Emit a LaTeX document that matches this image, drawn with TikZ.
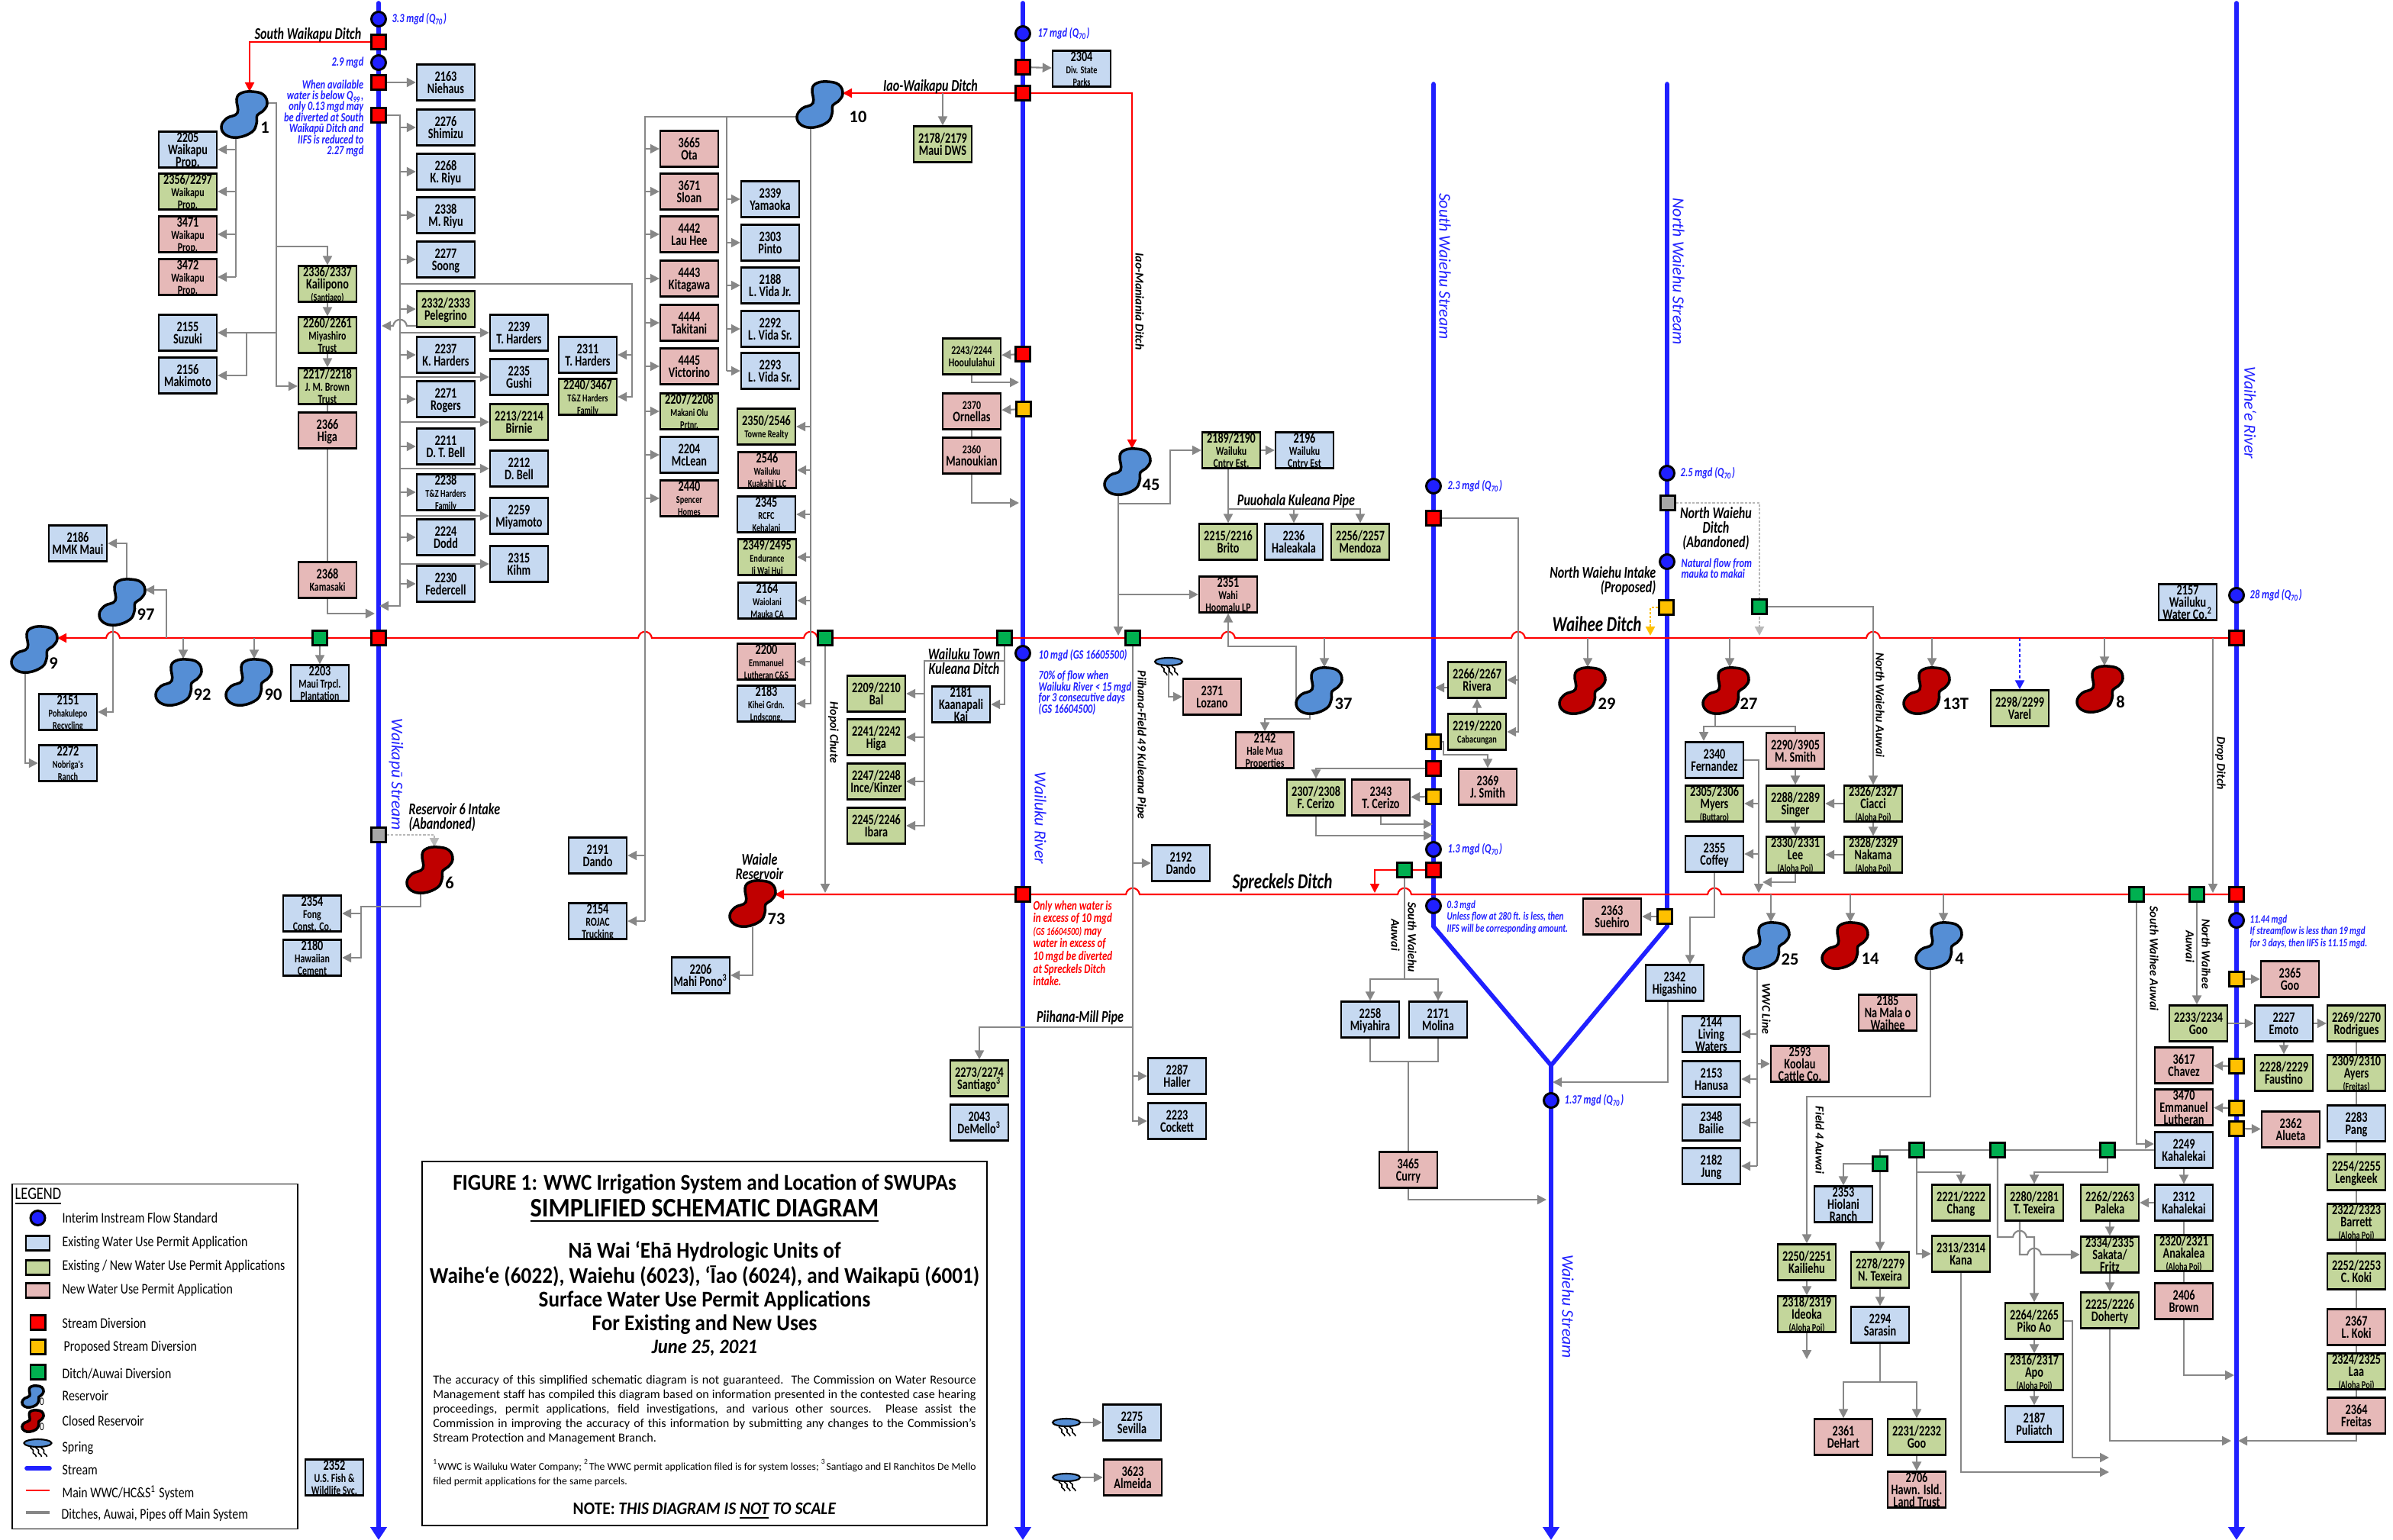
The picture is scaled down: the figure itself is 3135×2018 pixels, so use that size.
\documentclass[tikz,border=0pt]{standalone}
\usepackage{fontspec}
\setmainfont{Carlito}
\newfontfamily\cnd[FakeStretch=.75]{Carlito}
\newfontfamily\lgf[FakeStretch=.82]{Carlito}
\newfontfamily\ttl[FakeStretch=.92]{Carlito}
\usetikzlibrary{arrows.meta,shapes.geometric}
\pgfdeclarelayer{back}
\pgfsetlayers{back,main}
\definecolor{existc}{HTML}{C6D9F1}
\definecolor{bothc}{HTML}{C3D69B}
\definecolor{newc}{HTML}{E6B9B8}
\definecolor{flowb}{HTML}{2020FF}
\definecolor{resb}{HTML}{558ED5}
\definecolor{resr}{HTML}{C00000}
\definecolor{pipec}{HTML}{878787}
\definecolor{dgreen}{HTML}{00B050}
\definecolor{dyell}{HTML}{FFC000}
\definecolor{dgray}{HTML}{A6A6A6}
\newcommand{\sz}{\fontsize{4.5}{4.6}\selectfont}
\newcommand{\xs}{\fontsize{3.9}{4.6}\selectfont}
\newcommand{\Qs}{(Q\textsubscript{70})}
\newcommand{\fixls}{\lineskiplimit=-10pt\relax}
%hops over a crossing pipe
\newcommand{\hopl}[2]{-- (#1+9,#2) .. controls (#1+7,#2-11) and (#1-7,#2-11) .. (#1-9,#2)}
\newcommand{\hopr}[2]{-- (#1-9,#2) .. controls (#1-7,#2-11) and (#1+7,#2-11) .. (#1+9,#2)}
%symbols
\newcommand{\blob}[4]{\draw[blobl,fill=#3,shift={(#1,#2)},scale=#4] plot[smooth cycle,tension=.7] coordinates {(10,-30) (25,-26) (30,-14) (24,-4) (17,1) (16,12) (10,23) (-8,30) (-24,27) (-30,16) (-23,5) (-9,-2) (-10,-20) (-4,-28)};}
\newcommand{\reservoir}[4]{\node[resv] (#1) at (#2,#3) {}; \blob{#2}{#3}{#4}{1}}
\newcommand{\springw}[3]{\draw[line width=.45pt,shift={(#2,#3)}] (#1,4) .. controls (#1-3,7) and (#1+5,8) .. (#1+3,11) .. controls (#1+1,14) and (#1+7,14) .. (#1+7,18);}
\newcommand{\spring}[3]{\node[sprg] (#1) at (#2,#3) {}; \springw{-9}{#2}{#3} \springw{-2}{#2}{#3} \springw{5}{#2}{#3}}
\tikzset{
   permit/.style={draw=black,line width=.65pt,minimum width=.76cm,minimum height=.47cm,inner sep=0pt,text depth=0pt,align=center,font=\fixls\cnd\bfseries\fontsize{5.4}{4.6}\selectfont},
   exist/.style={permit,fill=existc},
   both/.style={permit,fill=bothc},
   newp/.style={permit,fill=newc},
   divsq/.style={draw=black,line width=.85pt,minimum size=.19cm,inner sep=0pt},
   divr/.style={divsq,fill=red},
   divy/.style={divsq,fill=dyell},
   divg/.style={divsq,fill=dgreen},
   divx/.style={divsq,fill=dgray},
   iifs/.style={circle,draw=black,line width=.85pt,fill=flowb,minimum size=.19cm,inner sep=0pt},
   resv/.style={inner sep=0pt,minimum width=.6cm,minimum height=.6cm},
   blobl/.style={draw=black,line width=1pt},
   sprg/.style={ellipse,draw=black,line width=.6pt,fill=resb,minimum width=.36cm,minimum height=.1cm,inner sep=0pt},
   resn/.style={inner sep=0pt,font=\bfseries\fontsize{6.4}{7}\selectfont},
   stream/.style={draw=flowb,line width=1.6pt,line cap=round},
   streama/.style={stream,-{Triangle[length=1.7mm,width=2.1mm]}},
   rd/.style={draw=red,line width=.6pt},
   rdar/.style={rd,-{Triangle[length=1.2mm,width=1.2mm]}},
   ln/.style={draw=pipec,line width=.6pt},
   ar/.style={ln,-{Triangle[length=1.2mm,width=1.2mm]}},
   dot/.style={draw=dgray!80,line width=.7pt,dash pattern=on .9pt off .6pt,-{Triangle[length=1.2mm,width=1.2mm]}},
   yel/.style={draw=dyell,line width=.7pt,dash pattern=on .9pt off .6pt,-{Triangle[length=1.2mm,width=1.2mm]}},
   bld/.style={draw=flowb,line width=.7pt,dash pattern=on 1.2pt off .8pt,-{Triangle[length=1.2mm,width=1.2mm]}},
   flow/.style={text=flowb,inner sep=0pt,anchor=west,align=left,font=\fixls\cnd\bfseries\itshape\fontsize{4.7}{4.1}\selectfont},
   ditch/.style={inner sep=0pt,align=center,font=\fixls\cnd\bfseries\itshape\fontsize{6.1}{5.4}\selectfont},
   ditchr/.style={inner sep=0pt,rotate=-90,font=\bfseries\itshape\fontsize{4.5}{5}\selectfont},
   bigd/.style={inner sep=0pt,font=\cnd\bfseries\itshape\fontsize{8}{8}\selectfont},
   strm/.style={inner sep=0pt,rotate=-90,text=flowb,font=\itshape\fontsize{6.2}{7}\selectfont},
   lgt/.style={inner sep=0pt,anchor=west,font=\lgf\fontsize{5.5}{6}\selectfont},
   lgbox/.style={draw=black,line width=.6pt,minimum width=.31cm,minimum height=.19cm,inner sep=0pt},
   ttla/.style={inner sep=0pt,font=\ttl\bfseries\fontsize{8.4}{9}\selectfont},
}
\begin{document}
\begin{tikzpicture}[x=.01cm,y=-.01cm]
   \useasboundingbox (0,0) rectangle (3135,2018);
   %diversions and gages
   \node[iifs] (wkpA) at (496,25) {};
   \node[divr] (wkpB) at (496,55) {};
   \node[iifs] (wkpC) at (496,82) {};
   \node[divr] (wkpD) at (496,108) {};
   \node[divr] (wkpE) at (496,151) {};
   \node[divr] (wkpF) at (496,836) {};
   \node[divx] (wkpG) at (496,1094) {};
   \node[iifs] (wluA) at (1340,44) {};
   \node[divr] (wluB) at (1340,88) {};
   \node[divr] (wluC) at (1340,122) {};
   \node[divr] (wluD) at (1340,464) {};
   \node[divy] (wluE) at (1341,536) {};
   \node[iifs] (wluF) at (1340,856) {};
   \node[divr] (wluG) at (1340,1172) {};
   \node[iifs] (swA) at (1878,637) {};
   \node[divr] (swB) at (1878,679) {};
   \node[divy] (swC) at (1878,972) {};
   \node[divr] (swD) at (1878,1007) {};
   \node[divy] (swE) at (1878,1044) {};
   \node[iifs] (swF) at (1878,1113) {};
   \node[divr] (swG) at (1878,1140) {};
   \node[iifs] (swH) at (1878,1187) {};
   \node[iifs] (nwA) at (2184,620) {};
   \node[divx] (nwB) at (2185,659) {};
   \node[iifs] (nwC) at (2184,736) {};
   \node[divy] (nwD) at (2183,796) {};
   \node[divy] (nwE) at (2181,1201) {};
   \node[iifs] (weA) at (2032,1442) {};
   \node[iifs] (whA) at (2930,780) {};
   \node[divr] (whB) at (2930,836) {};
   \node[divr] (whC) at (2930,1172) {};
   \node[iifs] (whD) at (2930,1206) {};
   \node[divy] (whE) at (2930,1283) {};
   \node[divy] (whF) at (2930,1397) {};
   \node[divy] (whG) at (2930,1452) {};
   \node[divy] (whH) at (2930,1479) {};
   \node[divg] (gA) at (419,836) {};
   \node[divg] (gB) at (1081,836) {};
   \node[divg] (gC) at (1316,836) {};
   \node[divg] (gD) at (1484,836) {};
   \node[divg] (gE) at (2305,795) {};
   \node[divg] (gF) at (1840,1140) {};
   \node[divg] (gG) at (2799,1172) {};
   \node[divg] (gH) at (2878,1172) {};
   \node[divg] (gI) at (2511,1507) {};
   \node[divg] (gJ) at (2617,1507) {};
   \node[divg] (gK) at (2761,1507) {};
   \node[divg] (gL) at (2463,1525) {};
   %reservoirs
   \reservoir{r1}{320}{150}{resb}
   \reservoir{r9}{45}{851}{resb}
   \reservoir{r97}{160}{789}{resb}
   \reservoir{r92}{234}{894}{resb}
   \reservoir{r90}{326}{894}{resb}
   \reservoir{r6}{563}{1140}{resr}
   \reservoir{r10}{1074}{137}{resb}
   \reservoir{r73}{986}{1184}{resr}
   \reservoir{r45}{1477}{618}{resb}
   \reservoir{r37}{1728}{905}{resb}
   \reservoir{r29}{2073}{905}{resr}
   \reservoir{r27}{2261}{905}{resr}
   \reservoir{r13}{2524}{905}{resr}
   \reservoir{r8}{2751}{903}{resr}
   \reservoir{r25}{2314}{1239}{resb}
   \reservoir{r14}{2417}{1239}{resr}
   \reservoir{r4}{2540}{1239}{resb}
   \node[resn] (n1) at (347,167) {1};
   \node[resn] (n9) at (70,869) {9};
   \node[resn] (n97) at (191,805) {97};
   \node[resn] (n92) at (265,910) {92};
   \node[resn] (n90) at (358,910) {90};
   \node[resn] (n6) at (589,1157) {6};
   \node[resn] (n10) at (1124,153) {10};
   \node[resn] (n73) at (1017,1204) {73};
   \node[resn] (n45) at (1508,635) {45};
   \node[resn] (n37) at (1760,922) {37};
   \node[resn] (n29) at (2105,922) {29};
   \node[resn] (n27) at (2291,922) {27};
   \node[resn] (n13) at (2562,922) {13T};
   \node[resn] (n8) at (2778,920) {8};
   \node[resn] (n25) at (2345,1257) {25};
   \node[resn] (n14) at (2450,1256) {14};
   \node[resn] (n4) at (2567,1256) {4};
   %springs
   \spring{sA}{1531}{867}
   \spring{sB}{1397}{1864}
   \spring{sC}{1397}{1936}
   %waikapu boxes
   \node[exist] (b2205) at (246,196) {2205\\Waikapu\\Prop.};
   \node[both] (b2356) at (246,251) {2356/2297\\\sz Waikapu\\\sz Prop.};
   \node[newp] (b3471) at (246,307) {3471\\\sz Waikapu\\\sz Prop.};
   \node[newp] (b3472) at (246,363) {3472\\\sz Waikapu\\\sz Prop.};
   \node[exist] (b2155) at (246,436) {2155\\Suzuki};
   \node[exist] (b2156) at (246,492) {2156\\Makimoto};
   \node[both] (b2336) at (429,372) {2336/2337\\Kailipono\\\xs(Santiago)};
   \node[both] (b2260) at (429,439) {2260/2261\\\sz Miyashiro\\\sz Trust};
   \node[both] (b2217) at (429,506) {2217/2218\\\sz J. M. Brown\\\sz Trust};
   \node[newp] (b2366) at (429,564) {2366\\Higa};
   \node[newp] (b2368) at (429,760) {2368\\\sz Kamasaki};
   \node[exist] (b2163) at (584,108) {2163\\Niehaus};
   \node[exist] (b2276) at (584,167) {2276\\Shimizu};
   \node[exist] (b2268) at (584,225) {2268\\K. Riyu};
   \node[exist] (b2338) at (584,282) {2338\\M. Riyu};
   \node[exist] (b2277) at (584,340) {2277\\Soong};
   \node[both] (b2332) at (584,405) {2332/2333\\Pelegrino};
   \node[exist] (b2237) at (584,465) {2237\\K. Harders};
   \node[exist] (b2271) at (584,523) {2271\\Rogers};
   \node[exist] (b2211) at (584,585) {2211\\D. T. Bell};
   \node[exist] (b2238) at (584,645) {2238\\\xs T\&Z Harders\\\xs Family};
   \node[exist] (b2224) at (584,704) {2224\\Dodd};
   \node[exist] (b2230) at (584,765) {2230\\Federcell};
   \node[exist] (b2239) at (680,436) {2239\\T. Harders};
   \node[exist] (b2235) at (680,494) {2235\\Gushi};
   \node[both] (b2213) at (680,553) {2213/2214\\Birnie};
   \node[exist] (b2212) at (680,614) {2212\\D. Bell};
   \node[exist] (b2259) at (680,676) {2259\\Miyamoto};
   \node[exist] (b2315) at (680,739) {2315\\Kihm};
   \node[exist] (b2311) at (770,465) {2311\\T. Harders};
   \node[both] (b2240) at (770,520) {2240/3467\\\xs T\&Z Harders\\\xs Family};
   \node[exist] (b2186) at (102,712) {2186\\MMK Maui};
   \node[exist] (b2203) at (419,895) {2203\\\sz Maui Trpcl.\\\sz Plantation};
   \node[exist] (b2151) at (89,933) {2151\\\xs Pohakulepo\\\xs Recycling};
   \node[exist] (b2272) at (89,1000) {2272\\\xs Nobriga's\\\xs Ranch};
   \node[exist] (b2354) at (409,1197) {2354\\\sz Fong\\\sz Const. Co.};
   \node[exist] (b2180) at (409,1255) {2180\\\sz Hawaiian\\\sz Cement};
   \node[exist] (b2352) at (438,1936) {2352\\\sz U.S. Fish \&\\\sz Wildlife Svc.};
   %iao west boxes
   \node[newp] (b3665) at (903,195) {3665\\Ota};
   \node[newp] (b3671) at (903,251) {3671\\Sloan};
   \node[newp] (b4442) at (903,307) {4442\\Lau Hee};
   \node[newp] (b4443) at (903,365) {4443\\Kitagawa};
   \node[newp] (b4444) at (903,423) {4444\\Takitani};
   \node[newp] (b4445) at (903,480) {4445\\Victorino};
   \node[both] (b2207) at (903,539) {2207/2208\\\xs Makani Olu\\\xs Prtnr.};
   \node[exist] (b2204) at (903,596) {2204\\McLean};
   \node[newp] (b2440) at (903,653) {2440\\\xs Spencer\\\xs Homes};
   \node[exist] (b2339) at (1009,261) {2339\\Yamaoka};
   \node[exist] (b2303) at (1009,318) {2303\\Pinto};
   \node[exist] (b2188) at (1009,374) {2188\\L. Vida Jr.};
   \node[exist] (b2292) at (1009,431) {2292\\L. Vida Sr.};
   \node[exist] (b2293) at (1009,486) {2293\\L. Vida Sr.};
   \node[both] (b2350) at (1004,559) {2350/2546\\\xs Towne Realty};
   \node[newp] (b2546) at (1005,616) {2546\\\xs Wailuku\\\xs Kuakahi LLC};
   \node[exist] (b2345) at (1004,674) {2345\\\xs RCFC\\\xs Kehalani};
   \node[both] (b2349) at (1005,730) {2349/2495\\\xs Endurance\\\xs Ii Wai Hui};
   \node[exist] (b2164) at (1005,787) {2164\\\xs Waiolani\\\xs Mauka CA};
   \node[newp] (b2200) at (1004,867) {2200\\\xs Emmanuel\\\xs Lutheran C\&S};
   \node[exist] (b2183) at (1004,922) {2183\\\xs Kihei Grdn.\\\xs Lndscpng.};
   \node[exist] (b2191) at (783,1121) {2191\\Dando};
   \node[exist] (b2154) at (783,1207) {2154\\\sz ROJAC\\\sz Trucking};
   \node[exist] (b2206) at (918,1278) {2206\\Mahi Pono\textsuperscript{3}};
   \node[both] (b2209) at (1148,909) {2209/2210\\Bal};
   \node[both] (b2241) at (1148,966) {2241/2242\\Higa};
   \node[both] (b2247) at (1148,1024) {2247/2248\\Ince/Kinzer};
   \node[both] (b2245) at (1148,1082) {2245/2246\\Ibara};
   \node[exist] (b2181) at (1259,923) {2181\\Kaanapali\\Kai};
   \node[both] (b2178) at (1235,189) {2178/2179\\Maui DWS};
   \node[exist] (b2304) at (1417,90) {2304\\\xs Div. State\\\xs Parks};
   \node[both] (b2243) at (1273,467) {\sz 2243/2244\\\sz Hooululahui};
   \node[newp] (b2370) at (1273,539) {\sz 2370\\Ornellas};
   \node[newp] (b2360) at (1273,597) {\sz 2360\\Manoukian};
   \node[exist] (b2192) at (1547,1131) {2192\\Dando};
   \node[both] (b2273) at (1283,1413) {2273/2274\\Santiago\textsuperscript{3}};
   \node[exist] (b2043) at (1283,1471) {2043\\DeMello\textsuperscript{3}};
   \node[exist] (b2287) at (1542,1410) {2287\\Haller};
   \node[exist] (b2223) at (1542,1469) {2223\\Cockett};
   \node[exist] (b2275) at (1483,1864) {2275\\Sevilla};
   \node[newp] (b3623) at (1484,1936) {3623\\Almeida};
   %iao east boxes
   \node[newp] (b2371) at (1588,913) {2371\\Lozano};
   \node[newp] (b2142) at (1657,983) {2142\\\sz Hale Mua\\\sz Properties};
   \node[both] (b2189) at (1613,590) {2189/2190\\\sz Wailuku\\\sz Cntry Est.};
   \node[exist] (b2196) at (1709,590) {2196\\\sz Wailuku\\\sz Cntry Est};
   \node[both] (b2215) at (1609,710) {2215/2216\\Brito};
   \node[exist] (b2236) at (1695,710) {2236\\Haleakala};
   \node[both] (b2256) at (1782,710) {2256/2257\\Mendoza};
   \node[newp] (b2351) at (1609,779) {2351\\\sz Wahi\\\sz Hoomalu LP};
   %waiehu boxes
   \node[both] (b2266) at (1935,891) {2266/2267\\Rivera};
   \node[both] (b2219) at (1935,959) {2219/2220\\\xs Cabacungan};
   \node[newp] (b2369) at (1949,1031) {2369\\J. Smith};
   \node[both] (b2307) at (1724,1045) {2307/2308\\F. Cerizo};
   \node[newp] (b2343) at (1809,1045) {2343\\T. Cerizo};
   \node[exist] (b2340) at (2246,996) {2340\\Fernandez};
   \node[newp] (b2290) at (2352,984) {2290/3905\\M. Smith};
   \node[both] (b2305) at (2246,1053) {2305/2306\\Myers\\\xs(Buttaro)};
   \node[both] (b2288) at (2352,1053) {2288/2289\\Singer};
   \node[exist] (b2355) at (2246,1119) {2355\\Coffey};
   \node[both] (b2330) at (2352,1120) {2330/2331\\Lee\\\xs(Aloha Poi)};
   \node[both] (b2326) at (2454,1053) {2326/2327\\Ciacci\\\xs(Aloha Poi)};
   \node[both] (b2328) at (2454,1120) {2328/2329\\Nakama\\\xs(Aloha Poi)};
   \node[exist] (b2157) at (2866,789) {2157\\Wailuku\\Water Co.\textsuperscript{2}};
   \node[both] (b2298) at (2646,928) {2298/2299\\Varel};
   \node[newp] (b2363) at (2112,1201) {2363\\Suehiro};
   \node[exist] (b2342) at (2194,1288) {2342\\Higashino};
   \node[exist] (b2258) at (1795,1336) {2258\\Miyahira};
   \node[exist] (b2171) at (1884,1336) {2171\\Molina};
   \node[newp] (b3465) at (1845,1533) {3465\\Curry};
   \node[exist] (b2144) at (2242,1355) {2144\\Living\\Waters};
   \node[exist] (b2153) at (2242,1414) {2153\\Hanusa};
   \node[exist] (b2348) at (2242,1471) {2348\\Bailie};
   \node[exist] (b2182) at (2242,1528) {2182\\Jung};
   \node[newp] (b2593) at (2358,1394) {2593\\Koolau\\Cattle Co.};
   \node[newp] (b2185) at (2473,1327) {2185\\Na Mala o\\Waihee};
   %waihee boxes
   \node[newp] (b2365) at (3000,1283) {2365\\Goo};
   \node[both] (b2233) at (2880,1341) {2233/2234\\Goo};
   \node[exist] (b2227) at (2992,1341) {2227\\Emoto};
   \node[both] (b2269) at (3087,1341) {2269/2270\\Rodrigues};
   \node[newp] (b3617) at (2861,1396) {3617\\Chavez};
   \node[both] (b2228) at (2992,1406) {2228/2229\\Faustino};
   \node[both] (b2309) at (3087,1406) {2309/2310\\Ayers\\\xs(Freitas)};
   \node[newp] (b3470) at (2861,1451) {3470\\Emmanuel\\Lutheran};
   \node[newp] (b2362) at (3001,1480) {2362\\Alueta};
   \node[exist] (b2283) at (3087,1472) {2283\\Pang};
   \node[exist] (b2249) at (2861,1507) {2249\\Kahalekai};
   \node[both] (b2254) at (3087,1536) {2254/2255\\Lengkeek};
   \node[exist] (b2312) at (2861,1576) {2312\\Kahalekai};
   \node[both] (b2262) at (2764,1576) {2262/2263\\Paleka};
   \node[both] (b2280) at (2665,1576) {2280/2281\\T. Texeira};
   \node[both] (b2221) at (2569,1576) {2221/2222\\Chang};
   \node[exist] (b2353) at (2415,1578) {2353\\Hiolani\\Ranch};
   \node[both] (b2322) at (3087,1601) {2322/2323\\Barrett\\\xs(Aloha Poi)};
   \node[both] (b2320) at (2861,1642) {2320/2321\\Anakalea\\\xs(Aloha Poi)};
   \node[both] (b2334) at (2764,1644) {2334/2335\\Sakata/\\Fritz};
   \node[both] (b2313) at (2569,1643) {2313/2314\\Kana};
   \node[both] (b2278) at (2463,1664) {2278/2279\\N. Texeira};
   \node[both] (b2250) at (2367,1654) {2250/2251\\Kailiehu};
   \node[both] (b2252) at (3087,1666) {2252/2253\\C. Koki};
   \node[newp] (b2406) at (2861,1705) {2406\\Brown};
   \node[both] (b2225) at (2764,1717) {2225/2226\\Doherty};
   \node[both] (b2264) at (2665,1731) {2264/2265\\Piko Ao};
   \node[both] (b2318) at (2367,1722) {2318/2319\\Ideoka\\\xs(Aloha Poi)};
   \node[exist] (b2294) at (2463,1736) {2294\\Sarasin};
   \node[newp] (b2367) at (3087,1739) {2367\\L. Koki};
   \node[both] (b2316) at (2665,1798) {2316/2317\\Apo\\\xs(Aloha Poi)};
   \node[both] (b2324) at (3087,1797) {2324/2325\\Laa\\\xs(Aloha Poi)};
   \node[exist] (b2187) at (2665,1866) {2187\\Puliatch};
   \node[newp] (b2364) at (3087,1855) {2364\\Freitas};
   \node[newp] (b2361) at (2415,1883) {2361\\DeHart};
   \node[both] (b2231) at (2511,1883) {2231/2232\\Goo};
   \node[newp] (b2706) at (2511,1952) {2706\\Hawn. Isld.\\Land Trust};
   %free ends and trunks
   \coordinate (wkpTop) at (496,4);
   \coordinate (wkpEnd) at (496,2018);
   \coordinate (wluTop) at (1340,4);
   \coordinate (wluEnd) at (1340,2018);
   \coordinate (swTop) at (1878,110);
   \coordinate (swBend) at (1878,1214);
   \coordinate (nwTop) at (2184,110);
   \coordinate (nwBend) at (2184,1214);
   \coordinate (yJoin) at (2032,1396);
   \coordinate (weEnd) at (2032,2018);
   \coordinate (whTop) at (2930,4);
   \coordinate (whEnd) at (2930,2018);
   \coordinate (r9in) at (75,836);
   \coordinate (r73in) at (1015,1172);
   \coordinate (r1in) at (327,120);
   \coordinate (r10in) at (1104,122);
   \coordinate (r45in) at (1483,588);
   \coordinate (spIn) at (1801,1170);
   \coordinate (tA) at (309,363);
   \coordinate (tB) at (362,506);
   \coordinate (r1out) at (348,135);
   \coordinate (tBa) at (362,323);
   \coordinate (tC) at (323,436);
   \coordinate (wkpIn) at (491,804);
   \coordinate (tD) at (524,794);
   \coordinate (wkpOut) at (497,794);
   \coordinate (tE) at (524,372);
   \coordinate (tF) at (828,520);
   \coordinate (h2332) at (545,427);
   \coordinate (wkpIn2) at (500,427);
   \coordinate (r97n) at (166,765);
   \coordinate (m97) at (218,836);
   \coordinate (r97e) at (190,773);
   \coordinate (r97s) at (148,815);
   \coordinate (r9s) at (33,878);
   \coordinate (m92) at (240,836);
   \coordinate (m90) at (333,836);
   \coordinate (r6in) at (569,1110);
   \coordinate (r6s) at (551,1166);
   \coordinate (tG) at (473,1188);
   \coordinate (r10w) at (1050,153);
   \coordinate (tH) at (845,1207);
   \coordinate (tI) at (952,486);
   \coordinate (r10s) at (1062,165);
   \coordinate (tJ) at (1062,923);
   \coordinate (mIao) at (1235,122);
   \coordinate (wluIn1) at (1335,501);
   \coordinate (wluIn2) at (1335,659);
   \coordinate (r45s) at (1465,645);
   \coordinate (m45) at (1465,833);
   \coordinate (t45) at (1465,660);
   \coordinate (c45) at (1533,660);
   \coordinate (tK) at (1609,667);
   \coordinate (m37) at (1735,836);
   \coordinate (r37w) at (1698,920);
   \coordinate (h37) at (1609,847);
   \coordinate (r37s) at (1716,932);
   \coordinate (c37) at (1657,942);
   \coordinate (spHop) at (1081,1170);
   \coordinate (tL) at (1316,866);
   \coordinate (tM) at (1211,1082);
   \coordinate (tO) at (1484,1346);
   \coordinate (tP) at (1989,959);
   \coordinate (swIn) at (1880,901);
   \coordinate (c2369) at (1891,989);
   \coordinate (swIn2) at (1877,1080);
   \coordinate (swIn3) at (1877,1095);
   \coordinate (tQ) at (1840,1283);
   \coordinate (tR) at (1845,1391);
   \coordinate (weIn1) at (2026,1572);
   \coordinate (mNa) at (2305,833);
   \coordinate (mNb) at (2162,833);
   \coordinate (m29) at (2080,836);
   \coordinate (m27) at (2266,836);
   \coordinate (m13) at (2531,836);
   \coordinate (mVa) at (2646,836);
   \coordinate (m8) at (2757,836);
   \coordinate (r27s) at (2247,932);
   \coordinate (t27) at (2247,952);
   \coordinate (c2340) at (2232,971);
   \coordinate (c2330) at (2309,1156);
   \coordinate (tS) at (2304,1170);
   \coordinate (c2342) at (2214,1202);
   \coordinate (weOut) at (2185,1418);
   \coordinate (weIn2) at (2034,1418);
   \coordinate (m25) at (2320,1172);
   \coordinate (m14) at (2424,1172);
   \coordinate (m4) at (2546,1172);
   \coordinate (r25s) at (2302,1268);
   \coordinate (tT) at (2302,1528);
   \coordinate (r4s) at (2529,1268);
   \coordinate (c4) at (2367,1437);
   \coordinate (f2318) at (2367,1781);
   \coordinate (dA) at (2899,836);
   \coordinate (dB) at (2899,1170);
   \coordinate (c2249) at (2822,1499);
   \coordinate (whIn) at (2932,1888);
   \coordinate (whIn2) at (2927,1802);
   \coordinate (whIn3) at (2923,1888);
   \coordinate (tU) at (2511,1536);
   \coordinate (cJ) at (2617,1621);
   \coordinate (cJb) at (2665,1621);
   \coordinate (cK) at (2761,1536);
   \coordinate (cL) at (2646,1644);
   \coordinate (cM) at (2715,1731);
   \coordinate (fA) at (2763,1910);
   \coordinate (fB) at (2763,1929);
   \coordinate (tV) at (2463,1811);
   \begin{pgfonlayer}{back}
   %streams
   \draw[streama] (wkpTop) -- (wkpEnd);
   \draw[streama] (wluTop) -- (wluEnd);
   \draw[stream] (swTop) -- (swBend) -- (yJoin);
   \draw[stream] (nwTop) -- (nwBend) -- (yJoin);
   \draw[streama] (yJoin) -- (weEnd);
   \draw[streama] (whTop) -- (whEnd);
   %main system
   \draw[rdar] (whB) \hopl{2454}{836} \hopl{1989}{836} \hopl{1609}{836} \hopl{1062}{836} \hopl{845}{836} \hopl{148}{836} -- (r9in);
   \draw[rdar] (whC) \hopl{2246}{1172} \hopl{1840}{1172} \hopl{1484}{1172} -- (r73in);
   \draw[rdar] (wkpB) -| (r1in);
   \draw[rdar] (wluC) -- (r10in);
   \draw[rdar] (wluC) -| (r45in);
   \draw[rd] (swG) -- (gF);
   \draw[rdar] (gF) -| (spIn);
   %reservoir 1
   \draw[ln] (tA |- r1.south) -- (tA);
   \draw[ar] (tA |- b2205) -- (b2205);
   \draw[ar] (tA |- b2356) -- (b2356);
   \draw[ar] (tA |- b3471) -- (b3471);
   \draw[ar] (tA |- b3472) -- (b3472);
   \draw[ar] (r1out) -| (tB) -- (b2217);
   \draw[ar] (tBa) -| (b2336);
   \draw[ar] (tB |- b2155) -- (b2155);
   \draw[ar] (tC) |- (b2156);
   \draw[ar] (b2336) -- (b2260);
   \draw[ar] (b2260) -- (b2217);
   \draw[ln] (b2217) -- (b2366);
   \draw[ln] (b2366) -- (b2368);
   \draw[ar] (b2368) |- (wkpIn);
   %waikapu east
   \draw[ar] (wkpD) -- (b2163);
   \draw[ar] (wkpE) -| (tD) -- (wkpOut);
   \draw[ar] (tD |- b2276) -- (b2276);
   \draw[ar] (tD |- b2268) -- (b2268);
   \draw[ar] (tD |- b2338) -- (b2338);
   \draw[ar] (tD |- b2277) -- (b2277);
   \draw[ar] (tD |- b2332) -- (b2332);
   \draw[ar] (tD |- b2237) -- (b2237);
   \draw[ar] (tD |- b2271) -- (b2271);
   \draw[ar] (tD |- b2211) -- (b2211);
   \draw[ar] (tD |- b2238) -- (b2238);
   \draw[ar] (tD |- b2224) -- (b2224);
   \draw[ar] (tD |- b2230) -- (b2230);
   \draw[ar] (tD |- b2239) -- (b2239);
   \draw[ar] (tD |- b2235) -- (b2235);
   \draw[ar] (tD |- b2213) -- (b2213);
   \draw[ar] (tD |- b2212) -- (b2212);
   \draw[ar] (tD |- b2259) -- (b2259);
   \draw[ar] (tD |- b2315) -- (b2315);
   \draw[ar] (tE) -| (tF) -- (b2240);
   \draw[ar] (tF |- b2311) -- (b2311);
   \draw[ar] (h2332) \hopl{524}{427} -- (wkpIn2);
   %main west
   \draw[ar] (r97n) |- (b2186);
   \draw[ar] (m97) |- (r97e);
   \draw[ar] (r97s) |- (b2151);
   \draw[ar] (r9s) |- (b2272);
   \draw[ar] (m92) -- (m92 |- r92.north);
   \draw[ar] (m90) -- (m90 |- r90.north);
   \draw[ar] (gA) -- (b2203);
   \draw[dot] (wkpG) -| (r6in);
   \draw[ar] (r6s) |- (tG) |- (b2180);
   \draw[ar] (tG |- b2354) -- (b2354);
   %reservoir 10
   \draw[ln] (r10w) -| (tH);
   \draw[ar] (tH |- b3665) -- (b3665);
   \draw[ar] (tH |- b3671) -- (b3671);
   \draw[ar] (tH |- b4442) -- (b4442);
   \draw[ar] (tH |- b4443) -- (b4443);
   \draw[ar] (tH |- b4444) -- (b4444);
   \draw[ar] (tH |- b4445) -- (b4445);
   \draw[ar] (tH |- b2207) -- (b2207);
   \draw[ar] (tH |- b2204) -- (b2204);
   \draw[ar] (tH |- b2440) -- (b2440);
   \draw[ar] (tH |- b2191) -- (b2191);
   \draw[ar] (tH |- b2154) -- (b2154);
   \draw[ln] (tI |- r10w) -- (tI);
   \draw[ar] (tI |- b2339) -- (b2339);
   \draw[ar] (tI |- b2303) -- (b2303);
   \draw[ar] (tI |- b2188) -- (b2188);
   \draw[ar] (tI |- b2292) -- (b2292);
   \draw[ar] (tI |- b2293) -- (b2293);
   \draw[ln] (r10s) -- (tJ);
   \draw[ar] (tJ |- b2350) -- (b2350);
   \draw[ar] (tJ |- b2546) -- (b2546);
   \draw[ar] (tJ |- b2345) -- (b2345);
   \draw[ar] (tJ |- b2349) -- (b2349);
   \draw[ar] (tJ |- b2164) -- (b2164);
   \draw[ar] (tJ |- b2200) -- (b2200);
   \draw[ar] (tJ |- b2183) -- (b2183);
   \draw[ar] (r73.south) |- (b2206);
   %wailuku
   \draw[ar] (mIao) -- (b2178);
   \draw[ar] (wluB) -- (b2304);
   \draw[ar] (wluD) -- (b2243);
   \draw[ar] (wluE) -- (b2370);
   \draw[ln] (b2370) -- (b2360);
   \draw[ar] (b2243) |- (wluIn1);
   \draw[ar] (b2360) |- (wluIn2);
   \draw[ar] (r45s) -- (m45);
   \draw[ar] (t45) -- (c45) |- (b2189);
   \draw[ar] (m45 |- b2351) -- (b2351);
   \draw[ar] (b2189) -- (b2196);
   \draw[ar] (b2215 |- b2189.south) -- (b2215);
   \draw[ar] (tK) -| (b2256);
   \draw[ar] (tK -| b2236) -- (b2236);
   \draw[ar] (m37) -- (m37 |- r37.north);
   \draw[ar] (r37w) |- (h37) -- (b2351);
   \draw[ar] (r37s) |- (c37) -- (b2142);
   \draw[ar] (sA) |- (b2371);
   \draw[ar] (sB) -- (b2275);
   \draw[ar] (sC) -- (b3623);
   \draw[ar] (gB) -- (spHop);
   \draw[ar] (gC) |- (b2181);
   \draw[ar] (tL) -| (tM) -- (b2245);
   \draw[ar] (tM |- b2209) -- (b2209);
   \draw[ar] (tM |- b2241) -- (b2241);
   \draw[ar] (tM |- b2247) -- (b2247);
   \draw[ar] (gD) |- (b2223);
   \draw[ar] (gD |- b2192) -- (b2192);
   \draw[ar] (gD |- b2287) -- (b2287);
   \draw[ar] (tO) -| (b2273);
   %south waiehu
   \draw[ar] (swB) -| (tP) -- (b2219);
   \draw[ar] (tP |- b2266) -- (b2266);
   \draw[ar] (b2266.west |- swIn) -- (swIn);
   \draw[ar] (b2219) -- (b2266);
   \draw[ar] (swC) -| (c2369) -| (b2369);
   \draw[ar] (swD) -| (b2307);
   \draw[ar] (swE) -- (b2343);
   \draw[ar] (b2343) |- (swIn2);
   \draw[ar] (b2307) |- (swIn3);
   \draw[ln] (gF) -- (tQ);
   \draw[ar] (tQ) -| (b2258);
   \draw[ar] (tQ) -| (b2171);
   \draw[ln] (b2258) |- (tR);
   \draw[ln] (b2171) |- (tR);
   \draw[ln] (tR) -- (b3465);
   \draw[ar] (b3465) |- (weIn1);
   %north waiehu
   \draw[dot] (nwB) -| (mNa);
   \draw[yel] (nwD) -| (mNb);
   \draw[ar] (gE) -| (b2326);
   \draw[ar] (nwE) -- (b2363);
   \draw[ar] (m29) -- (m29 |- r29.north);
   \draw[ar] (m27) -- (m27 |- r27.north);
   \draw[ar] (m13) -- (m13 |- r13.north);
   \draw[bld] (mVa) -- (b2298);
   \draw[ar] (m8) -- (m8 |- r8.north);
   \draw[ln] (r27s) -- (t27);
   \draw[ar] (t27) -| (c2340);
   \draw[ln] (t27) -| (b2290);
   \draw[ar] (b2290) -- (b2288);
   \draw[ar] (b2288) -- (b2330);
   \draw[ar] (b2326) -- (b2288);
   \draw[ar] (b2326) -- (b2328);
   \draw[ar] (b2328) -- (b2330);
   \draw[ar] (b2330) |- (c2330);
   \draw[ar] (b2340) -| (tS);
   \draw[ar] (tS |- b2305) -- (b2305);
   \draw[ar] (tS |- b2355) -- (b2355);
   \draw[ar] (b2355) |- (c2342) -- (c2342 |- b2342.north);
   \draw[ar] (weOut |- b2342.south) -- (weOut) -- (weIn2);
   \draw[ar] (m25) -- (m25 |- r25.north);
   \draw[ar] (m14) -- (m14 |- r14.north);
   \draw[ar] (m4) -- (m4 |- r4.north);
   \draw[ln] (r25s) -- (tT);
   \draw[ar] (tT |- b2144) -- (b2144);
   \draw[ar] (tT |- b2153) -- (b2153);
   \draw[ar] (tT |- b2348) -- (b2348);
   \draw[ar] (tT) -- (b2182);
   \draw[ar] (tT |- b2593) -- (b2593);
   \draw[ar] (r4s) |- (c4) -- (b2250);
   \draw[ar] (b2250) -- (b2318);
   \draw[ar] (b2318) -- (f2318);
   %waihee
   \draw[ar] (dA) -- (dB);
   \draw[ar] (gH) -- (gH |- b2233.north);
   \draw[ar] (gG) |- (c2249);
   \draw[ar] (b2233) -- (b2227);
   \draw[ar] (b2227) -- (b2269);
   \draw[ar] (b2227) -- (b2228);
   \draw[ln] (b2269) -- (b2364);
   \draw[ar] (b2364) |- (whIn);
   \draw[ar] (whE) -- (b2365);
   \draw[ar] (whF) -- (b3617);
   \draw[ar] (whG) -- (b3470);
   \draw[ar] (whH) -- (b2362);
   \draw[ln] (b2249) -- (gK) -- (gJ) -- (gI) -| (gL);
   \draw[ar] (gL) -- (b2278);
   \draw[ar] (gL) -| (b2353);
   \draw[ar] (gI) |- (b2313);
   \draw[ar] (tU) -| (b2221);
   \draw[ar] (gJ) -- (cJ) \hopr{2646}{1621} -- (cJb) -- (b2264);
   \draw[ar] (gK) -- (cK) -| (b2280);
   \draw[ar] (cL |- b2280.south) -- (cL) \hopr{2665}{1644} -- (b2334);
   \draw[ar] (b2312) -- (b2262);
   \draw[ar] (b2249) -- (b2312);
   \draw[ar] (b2262) -- (b2334);
   \draw[ar] (b2334) -- (b2225);
   \draw[ln] (b2312) -- (b2406);
   \draw[ar] (b2406) |- (whIn2);
   \draw[ar] (b2225) |- (whIn3);
   \draw[ar] (b2264) -- (b2316);
   \draw[ar] (b2316) -- (b2187);
   \draw[ar] (b2264) -- (cM) |- (fA);
   \draw[ar] (b2313) |- (fB);
   \draw[ar] (b2278) -- (b2294);
   \draw[ln] (b2294) -- (tV);
   \draw[ar] (tV) -| (b2361);
   \draw[ar] (tV) -| (b2231);
   \draw[ar] (b2231) -- (b2706);
   \end{pgfonlayer}
   %flow notes
   \node[flow] (qA) at (513,25) {3.3 mgd \Qs};
   \node[flow,anchor=east] (qB) at (477,82) {2.9 mgd};
   \node[flow,anchor=east,align=right] (qC) at (477,155) {When available\\water is below Q\textsubscript{99},\\only 0.13 mgd may\\be diverted at South\\Waikap\=u Ditch and\\IIFS is reduced to\\2.27 mgd};
   \node[flow] (qD) at (1359,44) {17 mgd \Qs};
   \node[flow] (qE) at (1360,859) {10 mgd (GS 16605500)};
   \node[flow] (qF) at (1360,908) {70\% of flow when\\Wailuku River < 15 mgd\\for 3 consecutive days\\(GS 16604500)};
   \node[flow,text=red,font=\fixls\cnd\bfseries\itshape\fontsize{4.9}{4.7}\selectfont] (qG) at (1353,1236) {Only when water is\\in excess of 10 mgd\\{\fontsize{4}{4.7}\selectfont(GS 16604500)} may\\water in excess of\\10 mgd be diverted\\at Spreckels Ditch\\intake.};
   \node[flow] (qH) at (1896,637) {2.3 mgd \Qs};
   \node[flow] (qI) at (1896,1113) {1.3 mgd \Qs};
   \node[flow] (qJ) at (2201,620) {2.5 mgd \Qs};
   \node[flow] (qK) at (2202,745) {Natural flow from\\mauka to makai};
   \node[flow,font=\fixls\cnd\bfseries\itshape\fontsize{4.2}{4.4}\selectfont] (qL) at (1895,1202) {0.3 mgd\\Unless flow at 280 ft. is less, then\\IIFS will be corresponding amount.};
   \node[flow] (qM) at (2049,1442) {1.37 mgd \Qs};
   \node[flow] (qN) at (2947,780) {28 mgd \Qs};
   \node[flow,font=\fixls\cnd\bfseries\itshape\fontsize{4.2}{4.3}\selectfont] (qO) at (2947,1221) {11.44 mgd\\If streamflow is less than 19 mgd\\for 3 days, then IIFS is 11.15 mgd.};
   %ditch names
   \node[ditch,anchor=east] (dtA) at (474,46) {South Waikapu Ditch};
   \node[ditch,anchor=west,align=left] (dtB) at (535,1071) {Reservoir 6 Intake\\(Abandoned)};
   \node[ditch] (dtC) at (995,1136) {Waiale\\Reservoir};
   \node[ditch] (dtD) at (1219,114) {Iao-Waikapu Ditch};
   \node[ditch] (dtE) at (1263,867) {Wailuku Town\\Kuleana Ditch};
   \node[ditch] (dtF) at (1415,1334) {Piihana-Mill Pipe};
   \node[ditch] (dtG) at (1698,657) {Puuohala Kuleana Pipe};
   \node[ditch] (dtH) at (2248,693) {North Waiehu\\Ditch\\(Abandoned)};
   \node[ditch,anchor=east,align=right] (dtI) at (2170,761) {North Waiehu Intake\\(Proposed)};
   \node[bigd] (dtJ) at (2092,818) {Waihee Ditch};
   \node[bigd] (dtK) at (1680,1157) {Spreckels Ditch};
   \node[ditchr] (dtL) at (1493,395) {Iao-Maniania Ditch};
   \node[ditchr] (dtM) at (1092,960) {Hopoi Chute};
   \node[ditchr] (dtN) at (1495,976) {Piihana-Field 49 Kuleana Pipe};
   \node[ditchr] (dtO) at (1850,1228) {South Waiehu};
   \node[ditchr] (dtP) at (1828,1225) {Auwai};
   \node[ditchr] (dtQ) at (2314,1322) {WWC Line};
   \node[ditchr] (dtR) at (2384,1494) {Field 4 Auwai};
   \node[ditchr] (dtS) at (2463,924) {North Waiehu Auwai};
   \node[ditchr] (dtT) at (2909,1000) {Drop Ditch};
   \node[ditchr] (dtU) at (2822,1256) {South Waihee Auwai};
   \node[ditchr] (dtV) at (2890,1250) {North Waihee};
   \node[ditchr] (dtW) at (2869,1240) {Auwai};
   %stream names
   \node[strm] (stA) at (519,1015) {Waikap\=u Stream};
   \node[strm] (stB) at (1363,1072) {Wailuku River};
   \node[strm] (stC) at (1893,349) {South Waiehu Stream};
   \node[strm] (stD) at (2199,356) {North Waiehu Stream};
   \node[strm] (stE) at (2948,541) {Waihe‘e River};
   \node[strm] (stF) at (2054,1712) {Waiehu Stream};
   %leyenda
   \node[draw=black,line width=.35pt,minimum width=3.74cm,minimum height=4.51cm,inner sep=0pt] (lgBox) at (203,1777.5) {};
   \node[lgt,font=\lgf\fontsize{6.4}{7}\selectfont] (lgTitle) at (19,1568) {\underline{LEGEND}};
   \node[iifs] (lgA) at (49.5,1596) {};
   \node[lgt] (lgAt) at (81,1596) {Interim Instream Flow Standard};
   \node[lgbox,fill=existc] (lgB) at (49.5,1629) {};
   \node[lgt] (lgBt) at (81,1628) {Existing Water Use Permit Application};
   \node[lgbox,fill=bothc] (lgC) at (49.5,1661) {};
   \node[lgt] (lgCt) at (81,1659) {Existing / New Water Use Permit Applications};
   \node[lgbox,fill=newc] (lgD) at (49.5,1691) {};
   \node[lgt] (lgDt) at (81,1690) {New Water Use Permit Application};
   \node[divr] (lgE) at (49.5,1733) {};
   \node[lgt] (lgEt) at (81,1734) {Stream Diversion};
   \node[divy] (lgF) at (49.5,1765) {};
   \node[lgt] (lgFt) at (83,1765) {Proposed Stream Diversion};
   \node[divg] (lgG) at (49.5,1798) {};
   \node[lgt] (lgGt) at (81,1800) {Ditch/Auwai Diversion};
   \blob{43}{1830}{resb}{.47}
   \node[inner sep=0pt,font=\cnd\fontsize{4.2}{5}\selectfont] (lgH0) at (55,1837) {0};
   \node[lgt] (lgHt) at (81,1829) {Reservoir};
   \blob{43}{1862}{resr}{.47}
   \node[inner sep=0pt,font=\cnd\fontsize{4.2}{5}\selectfont] (lgI0) at (55,1870) {0};
   \node[lgt] (lgIt) at (81,1862) {Closed Reservoir};
   \spring{lgJ}{49.5}{1891}
   \node[lgt] (lgJt) at (81,1897) {Spring};
   \coordinate (lgKa) at (35,1924);
   \coordinate (lgKb) at (65,1924);
   \draw[stream] (lgKa) -- (lgKb);
   \node[lgt] (lgKt) at (81,1926) {Stream};
   \coordinate (lgLa) at (34,1953);
   \coordinate (lgLb) at (65,1953);
   \draw[rd] (lgLa) -- (lgLb);
   \node[lgt] (lgLt) at (81,1956) {Main WWC/HC\&S\textsuperscript{1} System};
   \coordinate (lgMa) at (34,1982);
   \coordinate (lgMb) at (65,1982);
   \draw[ln,line width=.9pt] (lgMa) -- (lgMb);
   \node[lgt] (lgMt) at (80,1985) {Ditches, Auwai, Pipes off Main System};
   %titulo
   \node[draw=black,line width=.6pt,minimum width=7.4cm,minimum height=4.77cm,inner sep=0pt] (tBox) at (923,1760.5) {};
   \node[ttla] (tA1) at (923,1552) {FIGURE 1: WWC Irrigation System and Location of SWUPAs};
   \node[ttla,font=\ttl\bfseries\fontsize{10}{12}\selectfont] (tA2) at (923,1587) {\underline{SIMPLIFIED SCHEMATIC DIAGRAM}};
   \node[ttla] (tA3) at (923,1640) {Nā Wai ‘Ehā Hydrologic Units of};
   \node[ttla] (tA4) at (923,1672) {Waihe‘e (6022), Waiehu (6023), ‘Īao (6024), and Waikapū (6001)};
   \node[ttla] (tA5) at (923,1704) {Surface Water Use Permit Applications};
   \node[ttla] (tA6) at (923,1736) {For Existing and New Uses};
   \node[ttla,font=\ttl\bfseries\itshape\fontsize{7.6}{9}\selectfont] (tA7) at (923,1767) {June 25, 2021};
   \node[inner sep=0pt,text width=7.11cm,align=justify,font=\fontsize{4.6}{5.4}\selectfont] (tB1) at (923,1847) {The accuracy of this simplified schematic diagram is not guaranteed.\ \ The Commission on Water Resource\linebreak Management staff has compiled this diagram based on information presented in the contested case hearing\linebreak proceedings, permit applications, field investigations, and various other sources.\ \ Please assist the\linebreak Commission in improving the accuracy of this information by submitting any changes to the Commission’s\linebreak Stream Protection and Management Branch.};
   \node[inner sep=0pt,text width=7.11cm,align=justify,font=\fontsize{3.9}{5.4}\selectfont] (tB2) at (923,1930) {\textsuperscript{1}WWC is Wailuku Water Company; \textsuperscript{2}The WWC permit application filed is for system losses; \textsuperscript{3}Santiago and El Ranchitos De Mello\linebreak filed permit applications for the same parcels.};
   \node[ttla,font=\ttl\bfseries\fontsize{6.6}{8}\selectfont] (tC1) at (923,1980) {NOTE: \textit{THIS DIAGRAM IS \underline{NOT} TO SCALE}};
\end{tikzpicture}
\end{document}
